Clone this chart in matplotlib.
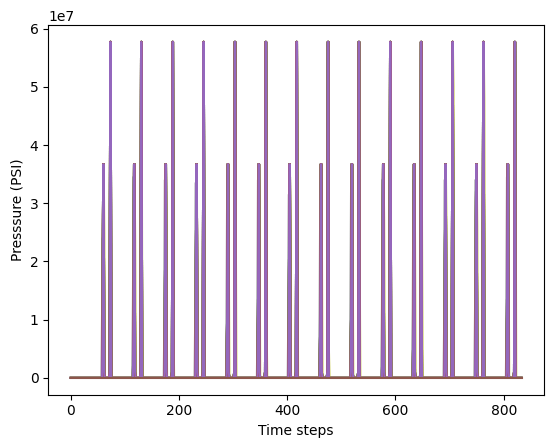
import numpy as np
import matplotlib.pyplot as plt

# ── data ──────────────────────────────────────────────────────────────────────
N_STEPS = 834
N_WELLS = 16
spike_starts = [60, 117, 175, 232, 290, 347, 404, 462, 519, 577, 634, 692, 749, 807]

# well 7: short peak one step earlier than the others (per period)
early_peaks = [2.40e7, 3.45e7, 3.40e7, 3.35e7, 3.30e7, 3.40e7, 3.15e7,
               3.35e7, 3.40e7, 3.40e7, 3.40e7, 3.40e7, 3.40e7, 3.45e7]
rise_vals   = [1.10e7, 1.30e7, 1.10e7, 1.10e7, 1.00e7, 1.00e7, 1.20e7,
               1.10e7, 1.30e7, 1.20e7, 1.20e7, 1.10e7, 1.20e7, 1.20e7]
# well 8: slower pressure decay after each spike (per period)
fall_vals   = [2.50e7, 2.40e7, 2.80e7, 1.20e7, 2.50e7, 2.60e7, 2.30e7,
               2.50e7, 2.20e7, 2.70e7, 2.50e7, 2.70e7, 2.60e7, 2.70e7]
tall_fall   = [1.00e6, 1.50e7, 1.00e7, 2.50e6, 2.80e7, 1.00e7, 3.40e7,
               5.00e6, 2.00e7, 1.00e6, 2.50e7, 5.00e7, 4.80e7, 4.00e7]

# common well response: offsets from spike start and values
short_off = [-1, 0, 1, 2]
short_val = [1.1e7, 3.67e7, 3.67e7, 1.0e6]
tall_off  = [12, 13, 14]
tall_val  = [1.0e6, 5.77e7, 5.77e7]


def build(events):
    y = np.zeros(N_STEPS)
    for t, v in events:
        if 0 <= t < N_STEPS:
            y[t] = v
    return y


t = np.arange(N_STEPS)

common = []
for s in spike_starts:
    common += [(s + o, v) for o, v in zip(short_off, short_val)]
    common += [(s + o, v) for o, v in zip(tall_off, tall_val)]

well7 = []
for s, e, r in zip(spike_starts, early_peaks, rise_vals):
    well7 += [(s - 2, r), (s - 1, e), (s, e), (s + 1, 1.0e6)]
    well7 += [(s + o, v) for o, v in zip(tall_off, tall_val)]

well8 = []
for s, f, tf in zip(spike_starts, fall_vals, tall_fall):
    well8 += [(s + o, v) for o, v in zip(short_off[:3], short_val[:3])]
    well8 += [(s + 2, f)]
    well8 += [(s + o, v) for o, v in zip(tall_off, tall_val)] + [(s + 15, tf)]

series = []
for i in range(N_WELLS):
    if i == 7:
        series.append(build(well7))
    elif i == 8:
        series.append(build(well8))
    elif i == N_WELLS - 1:
        series.append(np.zeros(N_STEPS))
    else:
        series.append(build(common))

fig, ax = plt.subplots(figsize=(6.4, 4.8))
for y in series:
    ax.plot(t, y)
ax.set_xlabel("Time steps")
ax.set_ylabel("Presssure (PSI)")
plt.savefig("out.png", dpi=100, bbox_inches="tight")
